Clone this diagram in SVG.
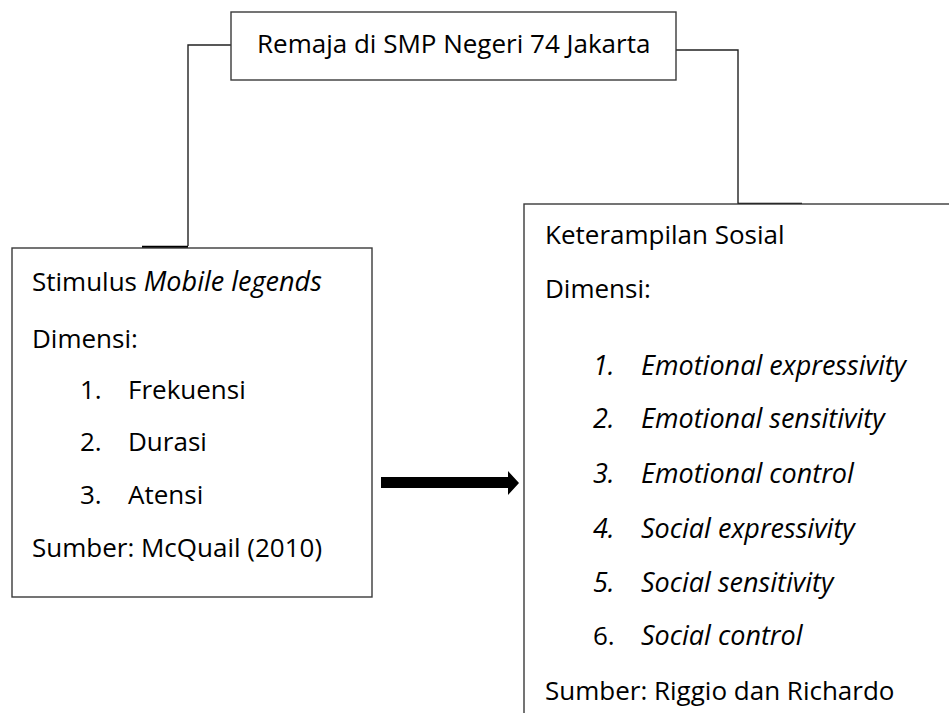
<svg xmlns="http://www.w3.org/2000/svg" width="949" height="713" viewBox="0 0 949 713">
<style>
.box{fill:#fff;stroke:#3a3a3a;stroke-width:1.4}
.ln{fill:none;stroke:#222;stroke-width:1.4}
.thk{fill:none;stroke:#000;stroke-width:2.6}
text{font-family:"Open Sans","Noto Sans",sans-serif;font-size:26px;fill:#000}
.it{font-style:italic;font-size:27px}
</style>
<rect width="949" height="713" fill="#fff"/>
<g id="connectors">
<polyline class="ln" points="231,45 188,45 188,246"/>
<line class="thk" x1="142" y1="247" x2="188" y2="247"/>
<polyline class="ln" points="676,50 738,50 738,204"/>
<line class="thk" x1="738" y1="204" x2="802" y2="204"/>
<polygon points="381,477 508,477 508,471 519,483 508,495 508,488 381,488" fill="#000"/>
</g>
<g id="node-top">
<rect class="box" x="231" y="12" width="445" height="68"/>
<text x="257" y="53">Remaja di SMP Negeri 74 Jakarta</text>
</g>
<g id="node-left">
<rect class="box" x="12" y="248" width="360" height="349"/>
<text x="32" y="291">Stimulus <tspan class="it">Mobile legends</tspan></text>
<text x="32" y="348">Dimensi:</text>
<text x="80" y="399">1.</text><text x="128" y="399">Frekuensi</text>
<text x="80" y="451">2.</text><text x="128" y="451">Durasi</text>
<text x="80" y="504">3.</text><text x="128" y="504">Atensi</text>
<text x="32" y="557">Sumber: McQuail (2010)</text>
</g>
<g id="node-right">
<rect class="box" x="524" y="204" width="460" height="560"/>
<text x="545" y="244">Keterampilan Sosial</text>
<text x="545" y="298">Dimensi:</text>
<text class="it" x="593" y="375">1.</text><text class="it" x="641" y="375">Emotional expressivity</text>
<text class="it" x="593" y="428">2.</text><text class="it" x="641" y="428">Emotional sensitivity</text>
<text class="it" x="593" y="483">3.</text><text class="it" x="641" y="483">Emotional control</text>
<text class="it" x="593" y="538">4.</text><text class="it" x="641" y="538">Social expressivity</text>
<text class="it" x="593" y="592">5.</text><text class="it" x="641" y="592">Social sensitivity</text>
<text x="593" y="645">6.</text><text class="it" x="641" y="645">Social control</text>
<text x="545" y="700">Sumber: Riggio dan Richardo</text>
</g>
</svg>
